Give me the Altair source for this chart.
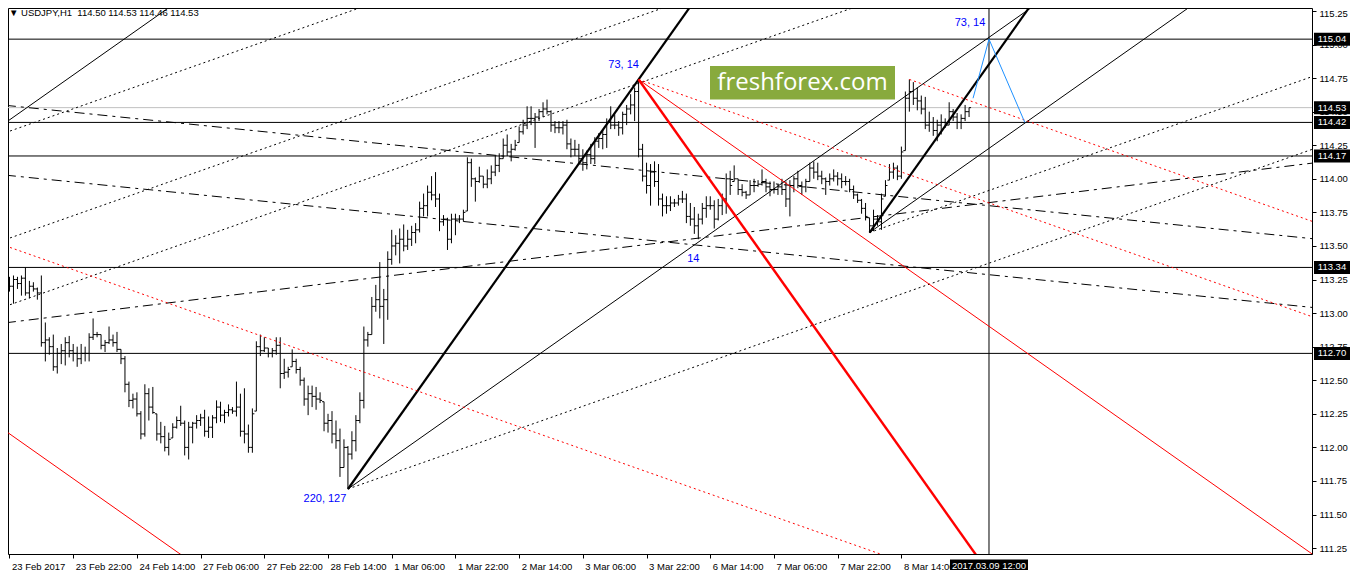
import json
import altair as alt
import pandas as pd

# ---------------- data ----------------
HIGH = [
    113.27, 113.28, 113.27, 113.28, 113.34, 113.24, 113.23, 113.19, 113.28, 112.93,
    112.82, 112.84, 112.74, 112.77, 112.82, 112.83, 112.77, 112.75, 112.77, 112.75,
    112.85, 112.96, 112.86, 112.84, 112.80, 112.90, 112.84, 112.86, 112.73, 112.68,
    112.49, 112.40, 112.41, 112.27, 112.47, 112.44, 112.45, 112.25, 112.19, 112.16,
    112.11, 112.18, 112.23, 112.31, 112.20, 112.19, 112.19, 112.24, 112.25, 112.28,
    112.23, 112.24, 112.35, 112.34, 112.28, 112.32, 112.30, 112.49, 112.40, 112.44,
    112.17, 112.29, 112.79, 112.84, 112.82, 112.74, 112.74, 112.82, 112.82, 112.66,
    112.60, 112.73, 112.66, 112.60, 112.52, 112.46, 112.46, 112.45, 112.41, 112.34,
    112.25, 112.27, 112.20, 112.14, 112.06, 112.01, 112.12, 112.24, 112.41, 112.90,
    112.86, 113.12, 113.21, 113.38, 113.18, 113.46, 113.62, 113.58, 113.63, 113.66,
    113.62, 113.65, 113.67, 113.83, 113.89, 113.95, 114.02, 114.05, 113.89, 113.73,
    113.71, 113.74, 113.74, 113.73, 113.77, 114.16, 114.15, 114.01, 114.09, 114.02,
    114.07, 114.10, 114.17, 114.19, 114.30, 114.33, 114.26, 114.29, 114.39, 114.44,
    114.54, 114.54, 114.49, 114.52, 114.57, 114.59, 114.51, 114.43, 114.43, 114.43,
    114.44, 114.30, 114.29, 114.26, 114.22, 114.21, 114.26, 114.31, 114.34, 114.37,
    114.45, 114.54, 114.48, 114.43, 114.50, 114.55, 114.63, 114.68, 114.74, 114.26,
    114.12, 114.11, 114.13, 114.11, 113.89, 113.87, 113.87, 113.85, 113.88, 113.91,
    113.89, 113.82, 113.79, 113.74, 113.82, 113.87, 113.87, 113.84, 113.85, 113.89,
    114.04, 114.06, 114.10, 114.00, 113.96, 113.91, 113.99, 114.00, 113.99, 114.07,
    114.00, 113.98, 113.98, 113.96, 114.00, 113.98, 113.99, 114.02, 114.06, 113.98,
    114.00, 114.12, 114.13, 114.12, 114.06, 114.01, 114.04, 114.07, 114.05, 114.04,
    114.02, 114.00, 113.95, 113.89, 113.85, 113.82, 113.71, 113.77, 113.73, 113.89,
    113.99, 114.11, 114.12, 114.10, 114.24, 114.65, 114.74, 114.72, 114.68, 114.62,
    114.61, 114.50, 114.46, 114.44, 114.48, 114.45, 114.57, 114.52, 114.49, 114.48,
    114.55, 114.53,
]
LOW = [
    113.16, 113.07, 113.18, 113.13, 113.13, 113.11, 113.16, 113.10, 112.75, 112.64,
    112.69, 112.57, 112.55, 112.62, 112.61, 112.67, 112.64, 112.60, 112.62, 112.64,
    112.64, 112.80, 112.82, 112.73, 112.71, 112.77, 112.75, 112.71, 112.62, 112.41,
    112.30, 112.29, 112.23, 112.06, 112.08, 112.20, 112.25, 112.05, 112.03, 111.97,
    111.94, 112.07, 112.14, 112.16, 111.94, 111.91, 112.03, 112.14, 112.16, 112.08,
    112.07, 112.07, 112.18, 112.19, 112.18, 112.23, 112.25, 112.23, 112.08, 112.03,
    111.96, 111.96, 112.27, 112.68, 112.71, 112.67, 112.67, 112.69, 112.44, 112.51,
    112.52, 112.60, 112.55, 112.46, 112.31, 112.24, 112.30, 112.28, 112.33, 112.12,
    112.11, 112.03, 111.99, 111.78, 111.85, 111.69, 111.91, 111.97, 112.18, 112.29,
    112.75, 112.84, 113.01, 112.96, 112.77, 112.95, 113.36, 113.43, 113.37, 113.46,
    113.47, 113.50, 113.52, 113.60, 113.72, 113.72, 113.84, 113.79, 113.61, 113.65,
    113.47, 113.52, 113.58, 113.67, 113.68, 113.76, 113.94, 113.83, 113.97, 113.93,
    113.93, 113.96, 114.02, 114.05, 114.15, 114.17, 114.13, 114.21, 114.27, 114.33,
    114.37, 114.40, 114.23, 114.43, 114.46, 114.48, 114.35, 114.34, 114.34, 114.33,
    114.22, 114.16, 114.17, 114.11, 114.06, 114.07, 114.11, 114.11, 114.23, 114.22,
    114.23, 114.37, 114.37, 114.32, 114.33, 114.40, 114.48, 114.43, 114.16, 113.98,
    113.89, 113.80, 113.94, 113.80, 113.72, 113.74, 113.76, 113.79, 113.80, 113.82,
    113.67, 113.65, 113.59, 113.55, 113.66, 113.71, 113.77, 113.63, 113.69, 113.73,
    113.74, 113.88, 113.98, 113.88, 113.87, 113.85, 113.88, 113.90, 113.94, 113.95,
    113.90, 113.87, 113.89, 113.88, 113.88, 113.79, 113.72, 113.90, 113.93, 113.88,
    113.90, 113.98, 114.00, 113.99, 113.96, 113.88, 113.95, 113.98, 113.95, 113.93,
    113.95, 113.90, 113.85, 113.82, 113.74, 113.69, 113.60, 113.61, 113.65, 113.62,
    113.87, 113.99, 114.00, 113.99, 114.00, 114.21, 114.50, 114.55, 114.51, 114.48,
    114.37, 114.35, 114.32, 114.28, 114.33, 114.38, 114.40, 114.43, 114.37, 114.37,
    114.43, 114.46,
]
CLOSE = [
    113.20, 113.25, 113.22, 113.26, 113.15, 113.20, 113.18, 113.15, 112.78, 112.80,
    112.75, 112.60, 112.70, 112.72, 112.78, 112.72, 112.70, 112.66, 112.70, 112.70,
    112.82, 112.84, 112.84, 112.76, 112.78, 112.80, 112.78, 112.73, 112.66, 112.47,
    112.35, 112.36, 112.25, 112.10, 112.40, 112.30, 112.26, 112.10, 112.08, 112.00,
    112.06, 112.15, 112.20, 112.18, 112.00, 112.15, 112.18, 112.20, 112.22, 112.12,
    112.15, 112.22, 112.30, 112.24, 112.26, 112.28, 112.27, 112.30, 112.12, 112.10,
    112.00, 112.25, 112.75, 112.72, 112.74, 112.70, 112.72, 112.76, 112.55, 112.56,
    112.58, 112.64, 112.58, 112.50, 112.36, 112.40, 112.38, 112.36, 112.35, 112.18,
    112.20, 112.10, 112.05, 111.85, 112.00, 111.95, 112.05, 112.20, 112.35, 112.80,
    112.84, 113.05, 113.10, 113.05, 113.10, 113.40, 113.50, 113.52, 113.55, 113.50,
    113.55, 113.60, 113.62, 113.78, 113.80, 113.90, 113.88, 113.85, 113.68, 113.70,
    113.55, 113.70, 113.70, 113.70, 113.75, 114.12, 114.00, 113.98, 114.02, 113.96,
    114.00, 114.05, 114.10, 114.15, 114.25, 114.20, 114.22, 114.25, 114.35, 114.40,
    114.45, 114.45, 114.46, 114.50, 114.52, 114.50, 114.40, 114.38, 114.38, 114.40,
    114.26, 114.22, 114.22, 114.15, 114.12, 114.18, 114.15, 114.28, 114.30, 114.33,
    114.42, 114.40, 114.40, 114.38, 114.48, 114.52, 114.55, 114.65, 114.22, 114.02,
    113.95, 114.05, 113.98, 113.85, 113.80, 113.80, 113.82, 113.82, 113.85, 113.85,
    113.72, 113.70, 113.65, 113.70, 113.78, 113.80, 113.80, 113.70, 113.80, 113.85,
    114.00, 113.95, 114.00, 113.92, 113.90, 113.88, 113.95, 113.95, 113.96, 113.98,
    113.94, 113.92, 113.92, 113.94, 113.92, 113.85, 113.95, 114.00, 113.95, 113.94,
    113.98, 114.08, 114.05, 114.02, 114.00, 113.98, 114.00, 114.02, 114.00, 113.98,
    113.98, 113.92, 113.88, 113.84, 113.78, 113.72, 113.65, 113.70, 113.68, 113.85,
    113.95, 114.05, 114.08, 114.02, 114.20, 114.60, 114.65, 114.60, 114.58, 114.52,
    114.40, 114.42, 114.36, 114.40, 114.42, 114.40, 114.50, 114.46, 114.42, 114.45,
    114.50, 114.53,
]
FIRST_OPEN = 113.22

TIME_TICKS = [0, 16, 32, 48, 64, 80, 96, 112, 128, 144, 160, 176, 192, 208, 224]
TIME_LABELS = ["23 Feb 2017", "23 Feb 22:00", "24 Feb 14:00", "27 Feb 06:00",
               "27 Feb 22:00", "28 Feb 14:00", "1 Mar 06:00", "1 Mar 22:00",
               "2 Mar 14:00", "3 Mar 06:00", "3 Mar 22:00", "6 Mar 14:00",
               "7 Mar 06:00", "7 Mar 22:00", "8 Mar 14:00"]
PRICE_TICKS = [111.25, 111.50, 111.75, 112.00, 112.25, 112.50, 112.75, 113.00,
               113.25, 113.50, 113.75, 114.00, 114.25, 114.50, 114.75, 115.00, 115.25]

LEVELS = [115.04, 114.53, 114.42, 114.17, 113.34, 112.70]
LEVEL_KIND = ["line", "bid", "line", "line", "line", "line"]

# pivots (bar index, price)
LOW1 = (85, 111.69)
PEAK1 = (158, 114.74)
LOW2 = (216, 113.60)
PEAK2 = (226, 114.74)
LOW3 = (173, 113.55)
VLINE_BAR = 246
VLINE_LABEL = "2017.03.09 12:00"

# earlier fan lines entering from the left edge: (bar, price)
LEFT_BLACK_THIN = (-0.9, 114.42)
LEFT_DOTS = [(44.1, 114.815), (49.0, 114.07), (96.6, 114.07)]
LEFT_RED_THIN = (-0.9, 112.12)
LEFT_RED_DOT = (47.9, 112.99)

# long dash-dot lines: (bar1, price1, bar2, price2)
DASHED = [(-0.9, 114.547, 328.6, 113.55),
          (-0.9, 114.027, 328.6, 113.038),
          (-0.9, 112.928, 328.6, 114.122)]

ZIG_I = [242, 246, 255]
ZIG_P = [114.60, 115.04, 114.42]

TITLE = "\u25BC USDJPY,H1\u00a0\u00a0114.50 114.53 114.46 114.53"

# ---------------- frames ----------------
W, H = 1304, 546
n = len(HIGH)
opens = []
prev = FIRST_OPEN
for k in range(n):
    opens.append(min(max(prev, LOW[k]), HIGH[k]))
    prev = CLOSE[k]
bars = pd.DataFrame({"i": list(range(n)), "h": HIGH, "l": LOW, "c": CLOSE, "o": opens})

S = (PEAK1[1] - LOW1[1]) / (PEAK1[0] - LOW1[0])
RAYS = [
    ("thick", LOW1, 1.0, True), ("thick", LOW2, 1.0, True),
    ("thin", LOW1, 0.5, True), ("thin", LOW2, 0.5, True), ("thin", LEFT_BLACK_THIN, 0.5, False),
    ("dot", LOW1, 0.25, True), ("dot", LOW2, 0.25, True),
    ("redthick", PEAK1, -1.0, True),
    ("redthin", PEAK1, -0.5, True), ("redthin", LEFT_RED_THIN, -0.5, False),
    ("reddot", PEAK1, -0.25, True), ("reddot", PEAK2, -0.25, True), ("reddot", LEFT_RED_DOT, -0.25, False),
]
for a in LEFT_DOTS:
    RAYS.append(("dot", a, 0.25, False))

rows = []
for style, (ia, pa), f, ray in RAYS:
    s = S * f
    i1 = ia if ray else -20.0
    i2 = 400.0
    rows.append(dict(style=style, x1=i1, y1=pa + s * (i1 - ia), x2=i2, y2=pa + s * (i2 - ia)))
for (a, pa, b, pb) in DASHED:
    rows.append(dict(style="dash", x1=a, y1=pa, x2=b, y2=pb))
segs = pd.DataFrame(rows)

levels = pd.DataFrame({"p": LEVELS, "kind": LEVEL_KIND, "label": [f"{v:.2f}" for v in LEVELS]})
zig = pd.DataFrame({"i": ZIG_I, "p": ZIG_P, "k": [0, 1, 2]})
one = pd.DataFrame({"a": [0]})

# ---------------- scales ----------------
XS = alt.Scale(domain=[-0.375, 327.125], nice=False, zero=False)
YS = alt.Scale(domain=[111.206, 115.272], nice=False, zero=False)
label_expr = json.dumps(TIME_LABELS) + "[round(datum.value / 16)]"
XAX = alt.Axis(values=TIME_TICKS, labelExpr=label_expr, tickSize=4, labelAlign="left",
               labelOffset=2, labelPadding=3, grid=False, domain=False, title=None,
               labelBaseline="top", labelFlush=False, labelOverlap=False)
YAX = alt.Axis(orient="right", values=PRICE_TICKS, format=".2f", tickSize=4, labelPadding=3,
               grid=False, domain=False, title=None, labelOverlap=False, labelFlush=False,
               labelOffset={"condition": {"test": "datum.value > 115.2", "value": 2.5}, "value": 0})


def X(f):
    return alt.X(f, type="quantitative", scale=XS, axis=XAX)


def Y(f):
    return alt.Y(f, type="quantitative", scale=YS, axis=YAX)


FONT = "Liberation Sans"
FS = 9.5
layers = []

# horizontal levels
layers.append(alt.Chart(levels).transform_filter(alt.datum.kind == "line")
              .mark_rule(color="black", strokeWidth=1, clip=True).encode(y=Y("p")))
layers.append(alt.Chart(levels).transform_filter(alt.datum.kind == "bid")
              .mark_rule(color="#c0c0c0", strokeWidth=1, clip=True).encode(y=Y("p")))
# vertical line
layers.append(alt.Chart(pd.DataFrame({"i": [VLINE_BAR]}))
              .mark_rule(color="black", strokeWidth=1, clip=True).encode(x=X("i")))

# OHLC bars
base = alt.Chart(bars)
layers.append(base.mark_rule(color="black", strokeWidth=1).encode(x=X("i"), y=Y("l"), y2="h"))
layers.append(base.mark_tick(orient="horizontal", size=2, thickness=1, xOffset=-1, color="black",
                             opacity=1).encode(x=X("i"), y=Y("o")))
layers.append(base.mark_tick(orient="horizontal", size=2, thickness=1, xOffset=1, color="black",
                             opacity=1).encode(x=X("i"), y=Y("c")))

# trend lines
STYLES = {
    "dash": dict(color="black", strokeWidth=1, strokeDash=[10, 5, 3, 5]),
    "dot": dict(color="black", strokeWidth=1, strokeDash=[2, 3]),
    "thin": dict(color="black", strokeWidth=1),
    "thick": dict(color="black", strokeWidth=2.2),
    "reddot": dict(color="#ff0000", strokeWidth=1, strokeDash=[2, 3]),
    "redthin": dict(color="#ff0000", strokeWidth=1),
    "redthick": dict(color="#ff0000", strokeWidth=2.4),
}
for name, st in STYLES.items():
    layers.append(alt.Chart(segs).transform_filter(alt.datum.style == name)
                  .mark_rule(clip=True, **st)
                  .encode(x=X("x1"), y=Y("y1"), x2="x2", y2="y2"))

# blue zigzag
layers.append(alt.Chart(zig).mark_line(color="#1e90ff", strokeWidth=1, clip=True)
              .encode(x=X("i"), y=Y("p"), order="k:Q"))


# pivot labels
def lab(text, i, p, dx, dy):
    return (alt.Chart(pd.DataFrame({"i": [i], "p": [p]}))
            .mark_text(text=text, color="#0000ff", font=FONT, fontSize=11, dx=dx, dy=dy,
                       align="center", baseline="middle")
            .encode(x=X("i"), y=Y("p")))


layers.append(lab("73, 14", PEAK1[0], PEAK1[1], -15, -14))
layers.append(lab("220, 127", LOW1[0], LOW1[1], -23, 10))
layers.append(lab("14", LOW3[0], LOW3[1], -5, 20))
layers.append(lab("73, 14", ZIG_I[1], ZIG_P[1], -19, -16))

# watermark
layers.append(alt.Chart(one).mark_rect(color="#88aa3d", opacity=1)
              .encode(x=alt.value(702), x2=alt.value(887), y=alt.value(58), y2=alt.value(91.5)))
layers.append(alt.Chart(one).mark_text(text="freshforex.com", font="Open Sans", fontSize=24,
                                       color="white", align="center", baseline="middle")
              .encode(x=alt.value(794.5), y=alt.value(74.5)))

# title
layers.append(alt.Chart(one).mark_text(text=TITLE, font=FONT, fontSize=FS, color="black",
                                       align="left", baseline="alphabetic")
              .encode(x=alt.value(1), y=alt.value(8)))

# price boxes on the right axis
layers.append(alt.Chart(levels).mark_point(shape="M-2.77,-1H2.77V1H-2.77Z", size=169, filled=True,
                                           color="black", opacity=1, strokeWidth=0)
              .encode(x=alt.value(W + 20), y=Y("p")))
layers.append(alt.Chart(levels).mark_text(color="white", font=FONT, fontSize=FS, align="center",
                                          baseline="middle")
              .encode(x=alt.value(W + 20), y=Y("p"), text="label:N"))

# time box on the bottom axis
layers.append(alt.Chart(pd.DataFrame({"i": [VLINE_BAR]}))
              .mark_point(shape="M-6,-0.92H6V0.92H-6Z", size=169, filled=True, color="black",
                          opacity=1, strokeWidth=0)
              .encode(x=X("i"), y=alt.value(H + 11.5)))
layers.append(alt.Chart(pd.DataFrame({"i": [VLINE_BAR]}))
              .mark_text(text=VLINE_LABEL, color="white", font=FONT, fontSize=FS,
                         align="center", baseline="middle")
              .encode(x=X("i"), y=alt.value(H + 11.5)))

chart = (alt.layer(*layers)
         .properties(width=W, height=H, autosize=alt.AutoSizeParams(type="none"),
                     padding={"left": 0, "top": 0, "right": 38, "bottom": 16})
         .configure_view(stroke="black", strokeWidth=1)
         .configure_axis(labelFont=FONT, labelFontSize=FS, labelColor="black",
                         tickColor="black", tickWidth=1))

chart.save("out.html", embed_options={"renderer": "svg", "actions": False})
